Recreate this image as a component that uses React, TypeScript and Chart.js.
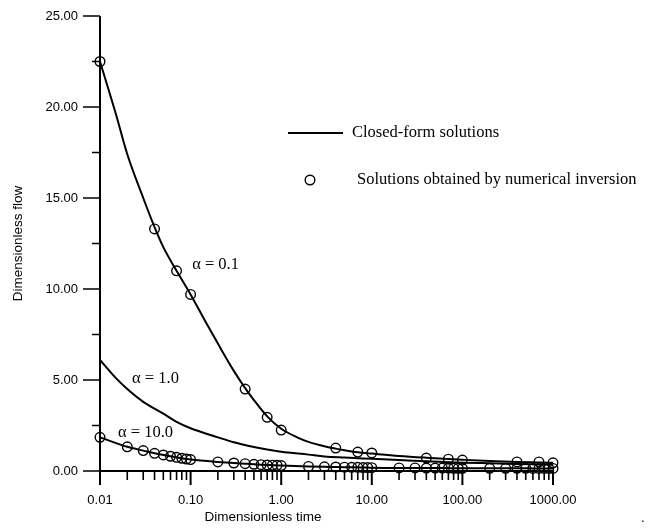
import React, { useEffect, useRef } from 'react';
import { Chart, registerables } from 'chart.js';

Chart.register(...registerables);

// ---- data ----
// alpha = 0.1 closed-form curve
const a01CurveT = [0.01, 0.015, 0.02, 0.03, 0.04, 0.05, 0.07, 0.1, 0.15, 0.2, 0.3, 0.4, 0.5, 0.7, 1, 1.5, 2, 3, 4, 5, 7, 10, 20, 40, 70, 100, 200, 400, 700, 1000];
const a01CurveQ = [22.5, 19.6, 17.4, 15.0, 13.4, 12.3, 11.0, 9.7, 8.1, 7.0, 5.5, 4.55, 3.9, 3.0, 2.32, 1.85, 1.6, 1.36, 1.23, 1.14, 1.03, 0.96, 0.83, 0.73, 0.66, 0.62, 0.55, 0.5, 0.47, 0.45];
// alpha = 0.1 numerical inversion
const a01PointT = [0.01, 0.04, 0.07, 0.1, 0.4, 0.7, 1, 4, 7, 10, 40, 70, 100, 400, 700, 1000];
const a01PointQ = [22.5, 13.3, 11.0, 9.7, 4.5, 2.95, 2.25, 1.26, 1.04, 0.99, 0.71, 0.65, 0.6, 0.5, 0.5, 0.45];
// alpha = 1.0 closed-form curve
const a1CurveT = [0.01, 0.015, 0.02, 0.03, 0.05, 0.07, 0.1, 0.2, 0.3, 0.5, 0.7, 1, 2, 3, 5, 10, 20, 40, 100, 200, 400, 1000];
const a1CurveQ = [6.1, 5.1, 4.5, 3.8, 3.15, 2.7, 2.35, 1.85, 1.58, 1.32, 1.18, 1.06, 0.9, 0.8, 0.74, 0.67, 0.6, 0.53, 0.46, 0.42, 0.38, 0.35];
// alpha = 10.0 (closed-form and numerical inversion)
const a10T = [0.01, 0.02, 0.03, 0.04, 0.05, 0.06, 0.07, 0.08, 0.09, 0.1, 0.2, 0.3, 0.4, 0.5, 0.6, 0.7, 0.8, 0.9, 1, 2, 3, 4, 5, 6, 7, 8, 9, 10, 20, 30, 40, 50, 60, 70, 80, 90, 100, 200, 300, 400, 500, 600, 700, 800, 900, 1000];
const a10Q = [1.85, 1.33, 1.12, 0.97, 0.88, 0.81, 0.75, 0.7, 0.66, 0.63, 0.5, 0.44, 0.4, 0.37, 0.35, 0.33, 0.32, 0.31, 0.3, 0.25, 0.23, 0.22, 0.21, 0.2, 0.2, 0.19, 0.19, 0.18, 0.17, 0.17, 0.16, 0.16, 0.16, 0.16, 0.15, 0.15, 0.15, 0.15, 0.15, 0.15, 0.15, 0.14, 0.14, 0.14, 0.14, 0.14];

// axes ticks
const xMajorTicks = [0.01, 0.1, 1, 10, 100, 1000];
const xMinorMultipliers = [2, 3, 4, 5, 6, 7, 8, 9];
const yMajorTicks = [0, 5, 10, 15, 20, 25];
const yMinorTicks = [2.5, 7.5, 12.5, 17.5, 22.5];

const xTitle = 'Dimensionless time';
const yTitle = 'Dimensionless flow';
const legendLine = 'Closed-form solutions';
const legendCircle = 'Solutions obtained by numerical inversion';
const curveLabels = [
  { text: '\u03b1 = 0.1', t: 0.104, q: 11.35 },
  { text: '\u03b1 = 1.0', t: 0.0226, q: 5.1 },
  { text: '\u03b1 = 10.0', t: 0.0158, q: 2.1 },
];

const zip = (t: number[], q: number[]) => t.map((v, i) => ({ x: v, y: q[i] }));

const SANS = '"Liberation Sans", Arial, Helvetica, sans-serif';
const SERIF = '"Liberation Serif", "Times New Roman", serif';

const axesPlugin = {
  id: 'customAxes',
  beforeDatasetsDraw(chart: any) {
    const { ctx, chartArea, scales } = chart;
    const x = scales.x;
    const y = scales.y;
    const left = chartArea.left;
    const bottom = chartArea.bottom;
    ctx.save();
    ctx.strokeStyle = '#000';
    ctx.lineCap = 'butt';
    // axis lines
    ctx.lineWidth = 2;
    ctx.beginPath();
    ctx.moveTo(left, y.getPixelForValue(25));
    ctx.lineTo(left, y.getPixelForValue(0));
    ctx.moveTo(left, bottom);
    ctx.lineTo(x.getPixelForValue(1000), bottom);
    ctx.stroke();
    // y ticks
    ctx.lineWidth = 1.6;
    ctx.beginPath();
    yMajorTicks.forEach((v) => {
      const py = y.getPixelForValue(v);
      ctx.moveTo(left - 17, py);
      ctx.lineTo(left, py);
    });
    yMinorTicks.forEach((v) => {
      const py = y.getPixelForValue(v);
      ctx.moveTo(left - 8, py);
      ctx.lineTo(left, py);
    });
    ctx.stroke();
    // x ticks
    ctx.lineWidth = 2;
    ctx.beginPath();
    xMajorTicks.forEach((v) => {
      const px = x.getPixelForValue(v);
      ctx.moveTo(px, bottom);
      ctx.lineTo(px, bottom + 14);
    });
    ctx.stroke();
    ctx.lineWidth = 1.6;
    ctx.beginPath();
    xMajorTicks.slice(0, -1).forEach((d) => {
      xMinorMultipliers.forEach((m) => {
        const px = x.getPixelForValue(d * m);
        ctx.moveTo(px, bottom);
        ctx.lineTo(px, bottom + 9);
      });
    });
    ctx.stroke();
    ctx.restore();
  },
  afterDraw(chart: any) {
    const { ctx, chartArea, scales } = chart;
    const x = scales.x;
    const y = scales.y;
    ctx.save();
    ctx.fillStyle = '#000';
    ctx.strokeStyle = '#000';
    // x axis title (offset to the left like the reference)
    ctx.font = `13.5px ${SANS}`;
    ctx.textAlign = 'center';
    ctx.textBaseline = 'middle';
    ctx.fillText(xTitle, chartArea.left + 163, chartArea.bottom + 46);
    // legend
    const lx = chartArea.left + 188;
    const ly1 = chartArea.top + 117;
    const ly2 = chartArea.top + 164;
    ctx.lineWidth = 2;
    ctx.beginPath();
    ctx.moveTo(lx, ly1);
    ctx.lineTo(lx + 55, ly1);
    ctx.stroke();
    ctx.lineWidth = 1.4;
    ctx.beginPath();
    ctx.arc(lx + 22, ly2, 4.8, 0, Math.PI * 2);
    ctx.stroke();
    ctx.font = `16.5px ${SERIF}`;
    ctx.textAlign = 'left';
    ctx.textBaseline = 'middle';
    ctx.fillText(legendLine, lx + 64, ly1);
    ctx.fillText(legendCircle, lx + 69, ly2);
    // curve labels
    ctx.font = `16.5px ${SERIF}`;
    curveLabels.forEach((c) => {
      ctx.fillText(c.text, x.getPixelForValue(c.t), y.getPixelForValue(c.q));
    });
    // stray dot from reference
    ctx.font = `13px ${SANS}`;
    ctx.fillText('.', chart.width - 9, chart.height - 10);
    ctx.restore();
  },
};

export default function App() {
  const ref = useRef<HTMLCanvasElement | null>(null);
  useEffect(() => {
    if (!ref.current) return;
    const lineStyle = {
      borderColor: '#000',
      borderWidth: 2,
      pointRadius: 0,
      fill: false,
      cubicInterpolationMode: 'monotone' as const,
      showLine: true,
      clip: false as const,
    };
    const pointStyle = {
      showLine: false,
      pointRadius: 4.8,
      pointBorderWidth: 1.4,
      pointBorderColor: '#000',
      pointBackgroundColor: 'rgba(0,0,0,0)',
      borderColor: '#000',
      backgroundColor: 'rgba(0,0,0,0)',
      clip: false as const,
    };
    const chart = new Chart(ref.current, {
      type: 'line',
      data: {
        datasets: [
          { label: 'alpha 0.1 closed form', data: zip(a01CurveT, a01CurveQ), ...lineStyle },
          { label: 'alpha 1.0 closed form', data: zip(a1CurveT, a1CurveQ), ...lineStyle },
          { label: 'alpha 10.0 closed form', data: zip(a10T, a10Q), ...lineStyle },
          { label: 'alpha 0.1 numerical', data: zip(a01PointT, a01PointQ), ...pointStyle },
          { label: 'alpha 10.0 numerical', data: zip(a10T, a10Q), ...pointStyle },
        ] as any,
      },
      options: {
        responsive: false,
        animation: false,
        devicePixelRatio: 1,
        layout: { padding: { left: 0, right: 97, top: 16, bottom: 0 } },
        plugins: { legend: { display: false }, tooltip: { enabled: false } },
        scales: {
          x: {
            type: 'logarithmic',
            min: 0.01,
            max: 1000,
            afterBuildTicks: (s: any) => {
              s.ticks = xMajorTicks.map((v) => ({ value: v }));
            },
            afterFit: (s: any) => {
              s.height = 57;
              s.paddingLeft = 0;
              s.paddingRight = 0;
              s.paddingTop = 0;
              s.paddingBottom = 0;
            },
            grid: { display: false, drawTicks: false },
            border: { display: false },
            ticks: {
              autoSkip: false,
              maxRotation: 0,
              padding: 22,
              color: '#000',
              font: { family: SANS, size: 13 },
              callback: (v: any) => Number(v).toFixed(2),
            },
            title: { display: false },
          },
          y: {
            type: 'linear',
            min: 0,
            max: 25,
            afterBuildTicks: (s: any) => {
              s.ticks = yMajorTicks.map((v) => ({ value: v }));
            },
            afterFit: (s: any) => {
              s.width = 100;
              s.paddingLeft = 0;
              s.paddingRight = 0;
              s.paddingTop = 0;
              s.paddingBottom = 0;
            },
            grid: { display: false, drawTicks: false },
            border: { display: false },
            ticks: {
              autoSkip: false,
              padding: 22,
              color: '#000',
              font: { family: SANS, size: 13 },
              callback: (v: any) => Number(v).toFixed(2),
            },
            title: {
              display: true,
              text: yTitle,
              color: '#000',
              font: { family: SANS, size: 13.5 },
              padding: { top: 10, bottom: 0 },
            },
          },
        },
      } as any,
      plugins: [axesPlugin],
    });
    return () => chart.destroy();
  }, []);
  return (
    <div style={{ position: 'fixed', left: 0, top: 0, width: 650, height: 528, background: '#fff' }}>
      <canvas ref={ref} width={650} height={528} style={{ width: 650, height: 528, display: 'block' }} />
    </div>
  );
}
